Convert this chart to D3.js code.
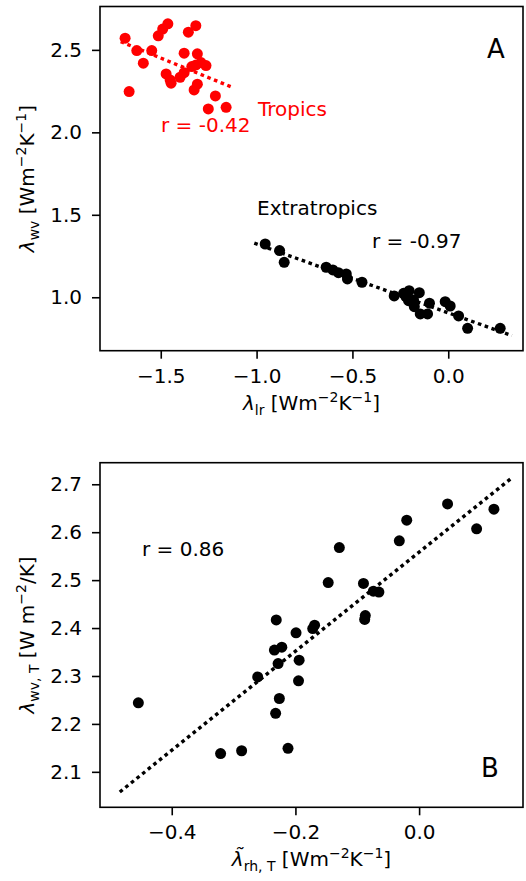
<!DOCTYPE html>
<html><head><meta charset="utf-8">
<script src="https://cdn.jsdelivr.net/npm/d3@7"></script>
<style>html,body{margin:0;padding:0;background:#fff}svg{display:block}</style>
</head><body><svg id="c" width="526" height="881"></svg>
<script>
// ---------- DATA ----------
const tropX = [-1.686,-1.625,-1.591,-1.665,-1.547,-1.513,-1.490,-1.463,-1.472,-1.451,-1.446,-1.399,-1.378,-1.378,-1.356,-1.317,-1.309,-1.338,-1.316,-1.290,-1.264,-1.309,-1.326,-1.215,-1.252,-1.159];
const tropY = [2.571,2.496,2.419,2.247,2.496,2.585,2.626,2.658,2.354,2.318,2.298,2.334,2.362,2.480,2.607,2.647,2.476,2.399,2.409,2.423,2.405,2.292,2.257,2.221,2.142,2.152];
const extraX = [-0.955,-0.880,-0.856,-0.637,-0.602,-0.573,-0.532,-0.526,-0.450,-0.282,-0.221,-0.204,-0.151,-0.207,-0.177,-0.146,-0.108,-0.098,-0.016,0.010,0.054,0.101,0.271,-0.233,-0.181];
const extraY = [1.323,1.283,1.212,1.182,1.166,1.149,1.141,1.111,1.091,1.008,1.004,1.040,1.028,0.979,0.943,0.899,0.899,0.964,0.973,0.947,0.887,0.812,0.812,1.024,0.984];
const fitTropX = [-1.709,-1.129], fitTropY = [2.550,2.274];
const fitExtraX = [-1.012,0.332], fitExtraY = [1.328,0.767];
const bX = [0.046,0.121,0.093,-0.020,-0.032,-0.129,-0.147,-0.090,-0.074,-0.065,-0.087,-0.088,-0.231,-0.169,-0.172,-0.199,-0.234,-0.222,-0.228,-0.194,-0.261,-0.195,-0.226,-0.232,-0.454,-0.321,-0.287,-0.212];
const bY = [2.659,2.648,2.607,2.625,2.582,2.568,2.495,2.493,2.477,2.475,2.426,2.418,2.417,2.406,2.399,2.390,2.354,2.360,2.326,2.333,2.298,2.290,2.253,2.222,2.244,2.138,2.144,2.149];
const fitBX = [-0.484,0.149], fitBY = [2.058,2.7125];
const aXTicks = [-1.5,-1.0,-0.5,0.0], aYTicks = [1.0,1.5,2.0,2.5];
const bXTicks = [-0.4,-0.2,0.0], bYTicks = [2.1,2.2,2.3,2.4,2.5,2.6,2.7];
const aXLim = [-1.817,0.39], aYLim = [0.676,2.763];
const bXLim = [-0.516,0.168], bYLim = [2.026,2.745];

// ---------- DRAW ----------
const svg = d3.select('#c');
const FONT = 'DejaVu Sans';
const FS = 20;

function rich(sel, segs){
  let prev = 'n';
  segs.forEach(([t,m])=>{
    const ts = sel.append('tspan').text(t);
    const off = {n:0,i:0,sub:5,sup:-8};
    const dy = off[m] - off[prev];
    if(dy) ts.attr('dy', dy);
    if(m==='sub'||m==='sup') ts.attr('font-size', 14);
    if(m==='i') ts.attr('font-style','italic');
    prev = m;
  });
}

function panel(o){
  const x = d3.scaleLinear().domain(o.xlim).range([100,523]);
  const y = d3.scaleLinear().domain(o.ylim).range([o.bottom,o.top]);
  const g = svg.append('g');
  const fmt = d3.format('.1f');
  const ax = g.append('g').attr('transform',`translate(0,${o.bottom})`)
    .call(d3.axisBottom(x).tickValues(o.xticks).tickFormat(fmt).tickSize(8).tickPadding(10));
  const ay = g.append('g').attr('transform','translate(100,0)')
    .call(d3.axisLeft(y).tickValues(o.yticks).tickFormat(fmt).tickSize(8).tickPadding(10));
  [ax,ay].forEach(a=>{
    a.select('.domain').remove();
    a.selectAll('line').attr('stroke','#000').attr('stroke-width',1.6);
    a.selectAll('text').attr('font-family',FONT).attr('font-size',FS).attr('fill','#000');
  });
  g.append('rect').attr('x',100).attr('y',o.top).attr('width',423).attr('height',o.bottom-o.top)
    .attr('fill','none').attr('stroke','#000').attr('stroke-width',1.6);
  return {x,y,g};
}

function drawLine(p, xs, ys, color){
  const line = d3.line().x(d=>p.x(d[0])).y(d=>p.y(d[1]));
  p.g.append('path').datum(xs.map((v,i)=>[v,ys[i]])).attr('d',line)
    .attr('fill','none').attr('stroke',color).attr('stroke-width',3.4).attr('stroke-dasharray','3.6,3.6');
}
function drawDots(p, xs, ys, color){
  p.g.append('g').selectAll('circle').data(xs.map((v,i)=>[v,ys[i]])).join('circle')
    .attr('cx',d=>p.x(d[0])).attr('cy',d=>p.y(d[1])).attr('r',5.5).attr('fill',color);
}
function label(x,y,txt,color,size,anchor){
  return svg.append('text').attr('x',x).attr('y',y).attr('font-family',FONT)
    .attr('font-size',size||FS).attr('fill',color||'#000').attr('text-anchor',anchor||'start').text(txt);
}

// Panel A
const A = panel({xlim:aXLim, ylim:aYLim, top:6.5, bottom:350.7, xticks:aXTicks, yticks:aYTicks});
drawLine(A, fitTropX, fitTropY, '#ff0000');
drawLine(A, fitExtraX, fitExtraY, '#000');
drawDots(A, tropX, tropY, '#ff0000');
drawDots(A, extraX, extraY, '#000');
label(258,116,'Tropics','#ff0000');
label(161,132,'r = -0.42','#ff0000');
label(257,215,'Extratropics','#000');
label(372,248,'r = -0.97','#000');
label(496,58,'A','#000',26,'middle');
rich(svg.append('text').attr('x',311.5).attr('y',410).attr('text-anchor','middle')
  .attr('font-family',FONT).attr('font-size',FS),
  [['λ','i'],['lr','sub'],[' [Wm','n'],['−2','sup'],['K','n'],['−1','sup'],[']','n']]);
rich(svg.append('text').attr('transform','translate(34,178.6) rotate(-90)').attr('text-anchor','middle')
  .attr('font-family',FONT).attr('font-size',FS),
  [['λ','i'],['wv','sub'],[' [Wm','n'],['−2','sup'],['K','n'],['−1','sup'],[']','n']]);

// Panel B
const B = panel({xlim:bXLim, ylim:bYLim, top:462.7, bottom:807.3, xticks:bXTicks, yticks:bYTicks});
drawLine(B, fitBX, fitBY, '#000');
drawDots(B, bX, bY, '#000');
label(142,556,'r = 0.86','#000');
label(490,777,'B','#000',26,'middle');
rich(svg.append('text').attr('x',311.5).attr('y',866).attr('text-anchor','middle')
  .attr('font-family',FONT).attr('font-size',FS),
  [['λ\u0303','i'],['rh, T','sub'],[' [Wm','n'],['−2','sup'],['K','n'],['−1','sup'],[']','n']]);
rich(svg.append('text').attr('transform','translate(34,635) rotate(-90)').attr('text-anchor','middle')
  .attr('font-family',FONT).attr('font-size',FS),
  [['λ','i'],['wv, T','sub'],[' [W m','n'],['−2','sup'],['/K]','n']]);
</script></body></html>
